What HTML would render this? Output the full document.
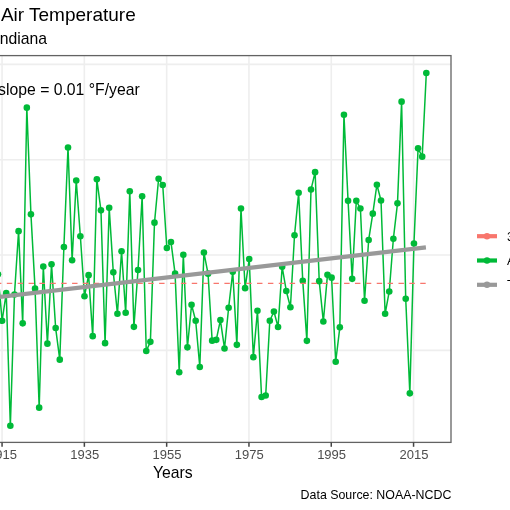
<!DOCTYPE html>
<html><head><meta charset="utf-8"><style>
html,body{margin:0;padding:0;background:#fff;width:510px;height:510px;overflow:hidden}
svg{display:block;font-family:"Liberation Sans",sans-serif;will-change:transform}
</style></head><body>
<svg width="510" height="510" viewBox="0 0 510 510">
<rect width="510" height="510" fill="#fff"/>
<line x1="-106" y1="64.4" x2="451.0" y2="64.4" stroke="#EEEEEE" stroke-width="1.6"/>
<line x1="-106" y1="159.7" x2="451.0" y2="159.7" stroke="#EEEEEE" stroke-width="1.6"/>
<line x1="-106" y1="255.0" x2="451.0" y2="255.0" stroke="#EEEEEE" stroke-width="1.6"/>
<line x1="-106" y1="350.4" x2="451.0" y2="350.4" stroke="#EEEEEE" stroke-width="1.6"/>
<line x1="2.06" y1="55.6" x2="2.06" y2="442.4" stroke="#EEEEEE" stroke-width="1.6"/>
<line x1="84.36" y1="55.6" x2="84.36" y2="442.4" stroke="#EEEEEE" stroke-width="1.6"/>
<line x1="166.66" y1="55.6" x2="166.66" y2="442.4" stroke="#EEEEEE" stroke-width="1.6"/>
<line x1="248.96" y1="55.6" x2="248.96" y2="442.4" stroke="#EEEEEE" stroke-width="1.6"/>
<line x1="331.26" y1="55.6" x2="331.26" y2="442.4" stroke="#EEEEEE" stroke-width="1.6"/>
<line x1="413.56" y1="55.6" x2="413.56" y2="442.4" stroke="#EEEEEE" stroke-width="1.6"/>
<polyline points="-2.01,274.35 2.11,320.75 6.23,293.15 10.35,425.75 14.47,294.45 18.58,231.15 22.70,323.35 26.82,107.65 30.94,214.35 35.06,288.65 39.18,407.65 43.30,266.55 47.41,343.65 51.53,264.35 55.65,328.05 59.77,359.65 63.89,246.95 68.01,147.55 72.12,260.25 76.24,180.45 80.36,236.25 84.48,296.25 88.60,275.15 92.72,336.15 96.84,179.25 100.95,210.35 105.07,343.15 109.19,207.85 113.31,272.35 117.43,313.75 121.55,251.25 125.67,312.75 129.78,191.25 133.90,326.85 138.02,270.05 142.14,196.25 146.26,350.95 150.38,341.85 154.49,222.65 158.61,178.75 162.73,184.95 166.85,248.05 170.97,241.95 175.09,273.65 179.21,372.25 183.32,254.75 187.44,347.35 191.56,304.75 195.68,320.75 199.80,366.95 203.92,252.55 208.04,273.65 212.15,340.65 216.27,339.85 220.39,320.05 224.51,348.45 228.63,307.75 232.75,271.85 236.86,344.85 240.98,208.55 245.10,288.15 249.22,259.05 253.34,357.15 257.46,310.75 261.58,397.05 265.69,395.55 269.81,320.75 273.93,311.45 278.05,327.05 282.17,266.85 286.29,290.95 290.41,307.25 294.52,235.25 298.64,192.75 302.76,280.85 306.88,340.85 311.00,189.55 315.12,172.15 319.23,281.15 323.35,321.55 327.47,274.85 331.59,277.65 335.71,361.75 339.83,327.35 343.95,114.75 348.06,200.85 352.18,278.85 356.30,200.85 360.42,208.55 364.54,300.75 368.66,239.95 372.78,213.65 376.89,184.75 381.01,200.55 385.13,313.75 389.25,291.45 393.37,238.75 397.49,203.35 401.60,101.65 405.72,298.75 409.84,393.35 413.96,243.45 418.08,148.35 422.20,156.65 426.32,73.05" fill="none" stroke="#00BA38" stroke-width="1.5" stroke-linejoin="round"/>
<circle cx="-2.01" cy="274.35" r="3.3" fill="#00BA38"/>
<circle cx="2.11" cy="320.75" r="3.3" fill="#00BA38"/>
<circle cx="6.23" cy="293.15" r="3.3" fill="#00BA38"/>
<circle cx="10.35" cy="425.75" r="3.3" fill="#00BA38"/>
<circle cx="14.47" cy="294.45" r="3.3" fill="#00BA38"/>
<circle cx="18.58" cy="231.15" r="3.3" fill="#00BA38"/>
<circle cx="22.70" cy="323.35" r="3.3" fill="#00BA38"/>
<circle cx="26.82" cy="107.65" r="3.3" fill="#00BA38"/>
<circle cx="30.94" cy="214.35" r="3.3" fill="#00BA38"/>
<circle cx="35.06" cy="288.65" r="3.3" fill="#00BA38"/>
<circle cx="39.18" cy="407.65" r="3.3" fill="#00BA38"/>
<circle cx="43.30" cy="266.55" r="3.3" fill="#00BA38"/>
<circle cx="47.41" cy="343.65" r="3.3" fill="#00BA38"/>
<circle cx="51.53" cy="264.35" r="3.3" fill="#00BA38"/>
<circle cx="55.65" cy="328.05" r="3.3" fill="#00BA38"/>
<circle cx="59.77" cy="359.65" r="3.3" fill="#00BA38"/>
<circle cx="63.89" cy="246.95" r="3.3" fill="#00BA38"/>
<circle cx="68.01" cy="147.55" r="3.3" fill="#00BA38"/>
<circle cx="72.12" cy="260.25" r="3.3" fill="#00BA38"/>
<circle cx="76.24" cy="180.45" r="3.3" fill="#00BA38"/>
<circle cx="80.36" cy="236.25" r="3.3" fill="#00BA38"/>
<circle cx="84.48" cy="296.25" r="3.3" fill="#00BA38"/>
<circle cx="88.60" cy="275.15" r="3.3" fill="#00BA38"/>
<circle cx="92.72" cy="336.15" r="3.3" fill="#00BA38"/>
<circle cx="96.84" cy="179.25" r="3.3" fill="#00BA38"/>
<circle cx="100.95" cy="210.35" r="3.3" fill="#00BA38"/>
<circle cx="105.07" cy="343.15" r="3.3" fill="#00BA38"/>
<circle cx="109.19" cy="207.85" r="3.3" fill="#00BA38"/>
<circle cx="113.31" cy="272.35" r="3.3" fill="#00BA38"/>
<circle cx="117.43" cy="313.75" r="3.3" fill="#00BA38"/>
<circle cx="121.55" cy="251.25" r="3.3" fill="#00BA38"/>
<circle cx="125.67" cy="312.75" r="3.3" fill="#00BA38"/>
<circle cx="129.78" cy="191.25" r="3.3" fill="#00BA38"/>
<circle cx="133.90" cy="326.85" r="3.3" fill="#00BA38"/>
<circle cx="138.02" cy="270.05" r="3.3" fill="#00BA38"/>
<circle cx="142.14" cy="196.25" r="3.3" fill="#00BA38"/>
<circle cx="146.26" cy="350.95" r="3.3" fill="#00BA38"/>
<circle cx="150.38" cy="341.85" r="3.3" fill="#00BA38"/>
<circle cx="154.49" cy="222.65" r="3.3" fill="#00BA38"/>
<circle cx="158.61" cy="178.75" r="3.3" fill="#00BA38"/>
<circle cx="162.73" cy="184.95" r="3.3" fill="#00BA38"/>
<circle cx="166.85" cy="248.05" r="3.3" fill="#00BA38"/>
<circle cx="170.97" cy="241.95" r="3.3" fill="#00BA38"/>
<circle cx="175.09" cy="273.65" r="3.3" fill="#00BA38"/>
<circle cx="179.21" cy="372.25" r="3.3" fill="#00BA38"/>
<circle cx="183.32" cy="254.75" r="3.3" fill="#00BA38"/>
<circle cx="187.44" cy="347.35" r="3.3" fill="#00BA38"/>
<circle cx="191.56" cy="304.75" r="3.3" fill="#00BA38"/>
<circle cx="195.68" cy="320.75" r="3.3" fill="#00BA38"/>
<circle cx="199.80" cy="366.95" r="3.3" fill="#00BA38"/>
<circle cx="203.92" cy="252.55" r="3.3" fill="#00BA38"/>
<circle cx="208.04" cy="273.65" r="3.3" fill="#00BA38"/>
<circle cx="212.15" cy="340.65" r="3.3" fill="#00BA38"/>
<circle cx="216.27" cy="339.85" r="3.3" fill="#00BA38"/>
<circle cx="220.39" cy="320.05" r="3.3" fill="#00BA38"/>
<circle cx="224.51" cy="348.45" r="3.3" fill="#00BA38"/>
<circle cx="228.63" cy="307.75" r="3.3" fill="#00BA38"/>
<circle cx="232.75" cy="271.85" r="3.3" fill="#00BA38"/>
<circle cx="236.86" cy="344.85" r="3.3" fill="#00BA38"/>
<circle cx="240.98" cy="208.55" r="3.3" fill="#00BA38"/>
<circle cx="245.10" cy="288.15" r="3.3" fill="#00BA38"/>
<circle cx="249.22" cy="259.05" r="3.3" fill="#00BA38"/>
<circle cx="253.34" cy="357.15" r="3.3" fill="#00BA38"/>
<circle cx="257.46" cy="310.75" r="3.3" fill="#00BA38"/>
<circle cx="261.58" cy="397.05" r="3.3" fill="#00BA38"/>
<circle cx="265.69" cy="395.55" r="3.3" fill="#00BA38"/>
<circle cx="269.81" cy="320.75" r="3.3" fill="#00BA38"/>
<circle cx="273.93" cy="311.45" r="3.3" fill="#00BA38"/>
<circle cx="278.05" cy="327.05" r="3.3" fill="#00BA38"/>
<circle cx="282.17" cy="266.85" r="3.3" fill="#00BA38"/>
<circle cx="286.29" cy="290.95" r="3.3" fill="#00BA38"/>
<circle cx="290.41" cy="307.25" r="3.3" fill="#00BA38"/>
<circle cx="294.52" cy="235.25" r="3.3" fill="#00BA38"/>
<circle cx="298.64" cy="192.75" r="3.3" fill="#00BA38"/>
<circle cx="302.76" cy="280.85" r="3.3" fill="#00BA38"/>
<circle cx="306.88" cy="340.85" r="3.3" fill="#00BA38"/>
<circle cx="311.00" cy="189.55" r="3.3" fill="#00BA38"/>
<circle cx="315.12" cy="172.15" r="3.3" fill="#00BA38"/>
<circle cx="319.23" cy="281.15" r="3.3" fill="#00BA38"/>
<circle cx="323.35" cy="321.55" r="3.3" fill="#00BA38"/>
<circle cx="327.47" cy="274.85" r="3.3" fill="#00BA38"/>
<circle cx="331.59" cy="277.65" r="3.3" fill="#00BA38"/>
<circle cx="335.71" cy="361.75" r="3.3" fill="#00BA38"/>
<circle cx="339.83" cy="327.35" r="3.3" fill="#00BA38"/>
<circle cx="343.95" cy="114.75" r="3.3" fill="#00BA38"/>
<circle cx="348.06" cy="200.85" r="3.3" fill="#00BA38"/>
<circle cx="352.18" cy="278.85" r="3.3" fill="#00BA38"/>
<circle cx="356.30" cy="200.85" r="3.3" fill="#00BA38"/>
<circle cx="360.42" cy="208.55" r="3.3" fill="#00BA38"/>
<circle cx="364.54" cy="300.75" r="3.3" fill="#00BA38"/>
<circle cx="368.66" cy="239.95" r="3.3" fill="#00BA38"/>
<circle cx="372.78" cy="213.65" r="3.3" fill="#00BA38"/>
<circle cx="376.89" cy="184.75" r="3.3" fill="#00BA38"/>
<circle cx="381.01" cy="200.55" r="3.3" fill="#00BA38"/>
<circle cx="385.13" cy="313.75" r="3.3" fill="#00BA38"/>
<circle cx="389.25" cy="291.45" r="3.3" fill="#00BA38"/>
<circle cx="393.37" cy="238.75" r="3.3" fill="#00BA38"/>
<circle cx="397.49" cy="203.35" r="3.3" fill="#00BA38"/>
<circle cx="401.60" cy="101.65" r="3.3" fill="#00BA38"/>
<circle cx="405.72" cy="298.75" r="3.3" fill="#00BA38"/>
<circle cx="409.84" cy="393.35" r="3.3" fill="#00BA38"/>
<circle cx="413.96" cy="243.45" r="3.3" fill="#00BA38"/>
<circle cx="418.08" cy="148.35" r="3.3" fill="#00BA38"/>
<circle cx="422.20" cy="156.65" r="3.3" fill="#00BA38"/>
<circle cx="426.32" cy="73.05" r="3.3" fill="#00BA38"/>
<line x1="-80.24" y1="283.4" x2="425.91" y2="283.4" stroke="#F8766D" stroke-width="1.2" stroke-dasharray="5.44 5.44"/>
<line x1="-80.24" y1="306.12" x2="425.91" y2="247.31" stroke="#999999" stroke-width="4.2"/>
<rect x="-106" y="55.6" width="557.0" height="386.79999999999995" fill="none" stroke="#636363" stroke-width="1.3"/>
<line x1="2.06" y1="442.4" x2="2.06" y2="446.8" stroke="#444444" stroke-width="1.5"/>
<text x="2.41" y="458.9" text-anchor="middle" font-size="13" fill="#4D4D4D">1915</text>
<line x1="84.36" y1="442.4" x2="84.36" y2="446.8" stroke="#444444" stroke-width="1.5"/>
<text x="84.71" y="458.9" text-anchor="middle" font-size="13" fill="#4D4D4D">1935</text>
<line x1="166.66" y1="442.4" x2="166.66" y2="446.8" stroke="#444444" stroke-width="1.5"/>
<text x="167.01" y="458.9" text-anchor="middle" font-size="13" fill="#4D4D4D">1955</text>
<line x1="248.96" y1="442.4" x2="248.96" y2="446.8" stroke="#444444" stroke-width="1.5"/>
<text x="249.31" y="458.9" text-anchor="middle" font-size="13" fill="#4D4D4D">1975</text>
<line x1="331.26" y1="442.4" x2="331.26" y2="446.8" stroke="#444444" stroke-width="1.5"/>
<text x="331.61" y="458.9" text-anchor="middle" font-size="13" fill="#4D4D4D">1995</text>
<line x1="413.56" y1="442.4" x2="413.56" y2="446.8" stroke="#444444" stroke-width="1.5"/>
<text x="413.91" y="458.9" text-anchor="middle" font-size="13" fill="#4D4D4D">2015</text>
<text x="0.9" y="21.3" font-size="19" fill="#000">Air Temperature</text>
<text x="-4.6" y="43.8" font-size="15.75" fill="#000">Indiana</text>
<text x="-1.9" y="94.6" font-size="15.75" fill="#000">slope = 0.01 °F/year</text>
<text x="172.8" y="477.7" text-anchor="middle" font-size="15.75" fill="#000">Years</text>
<text x="451.4" y="498.6" text-anchor="end" font-size="12.4" fill="#000">Data Source: NOAA-NCDC</text>
<line x1="477" y1="236.20" x2="497" y2="236.20" stroke="#F8766D" stroke-width="4.2"/>
<circle cx="487" cy="236.20" r="3.2" fill="#F8766D"/>
<text x="507" y="240.70" font-size="12.6" fill="#000">30-year average</text>
<line x1="477" y1="260.50" x2="497" y2="260.50" stroke="#00BA38" stroke-width="4.2"/>
<circle cx="487" cy="260.50" r="3.2" fill="#00BA38"/>
<text x="507" y="265.00" font-size="12.6" fill="#000">Annual</text>
<line x1="477" y1="284.80" x2="497" y2="284.80" stroke="#999999" stroke-width="4.2"/>
<circle cx="487" cy="284.80" r="3.2" fill="#999999"/>
<text x="507" y="289.30" font-size="12.6" fill="#000">Trend</text>
</svg></body></html>
